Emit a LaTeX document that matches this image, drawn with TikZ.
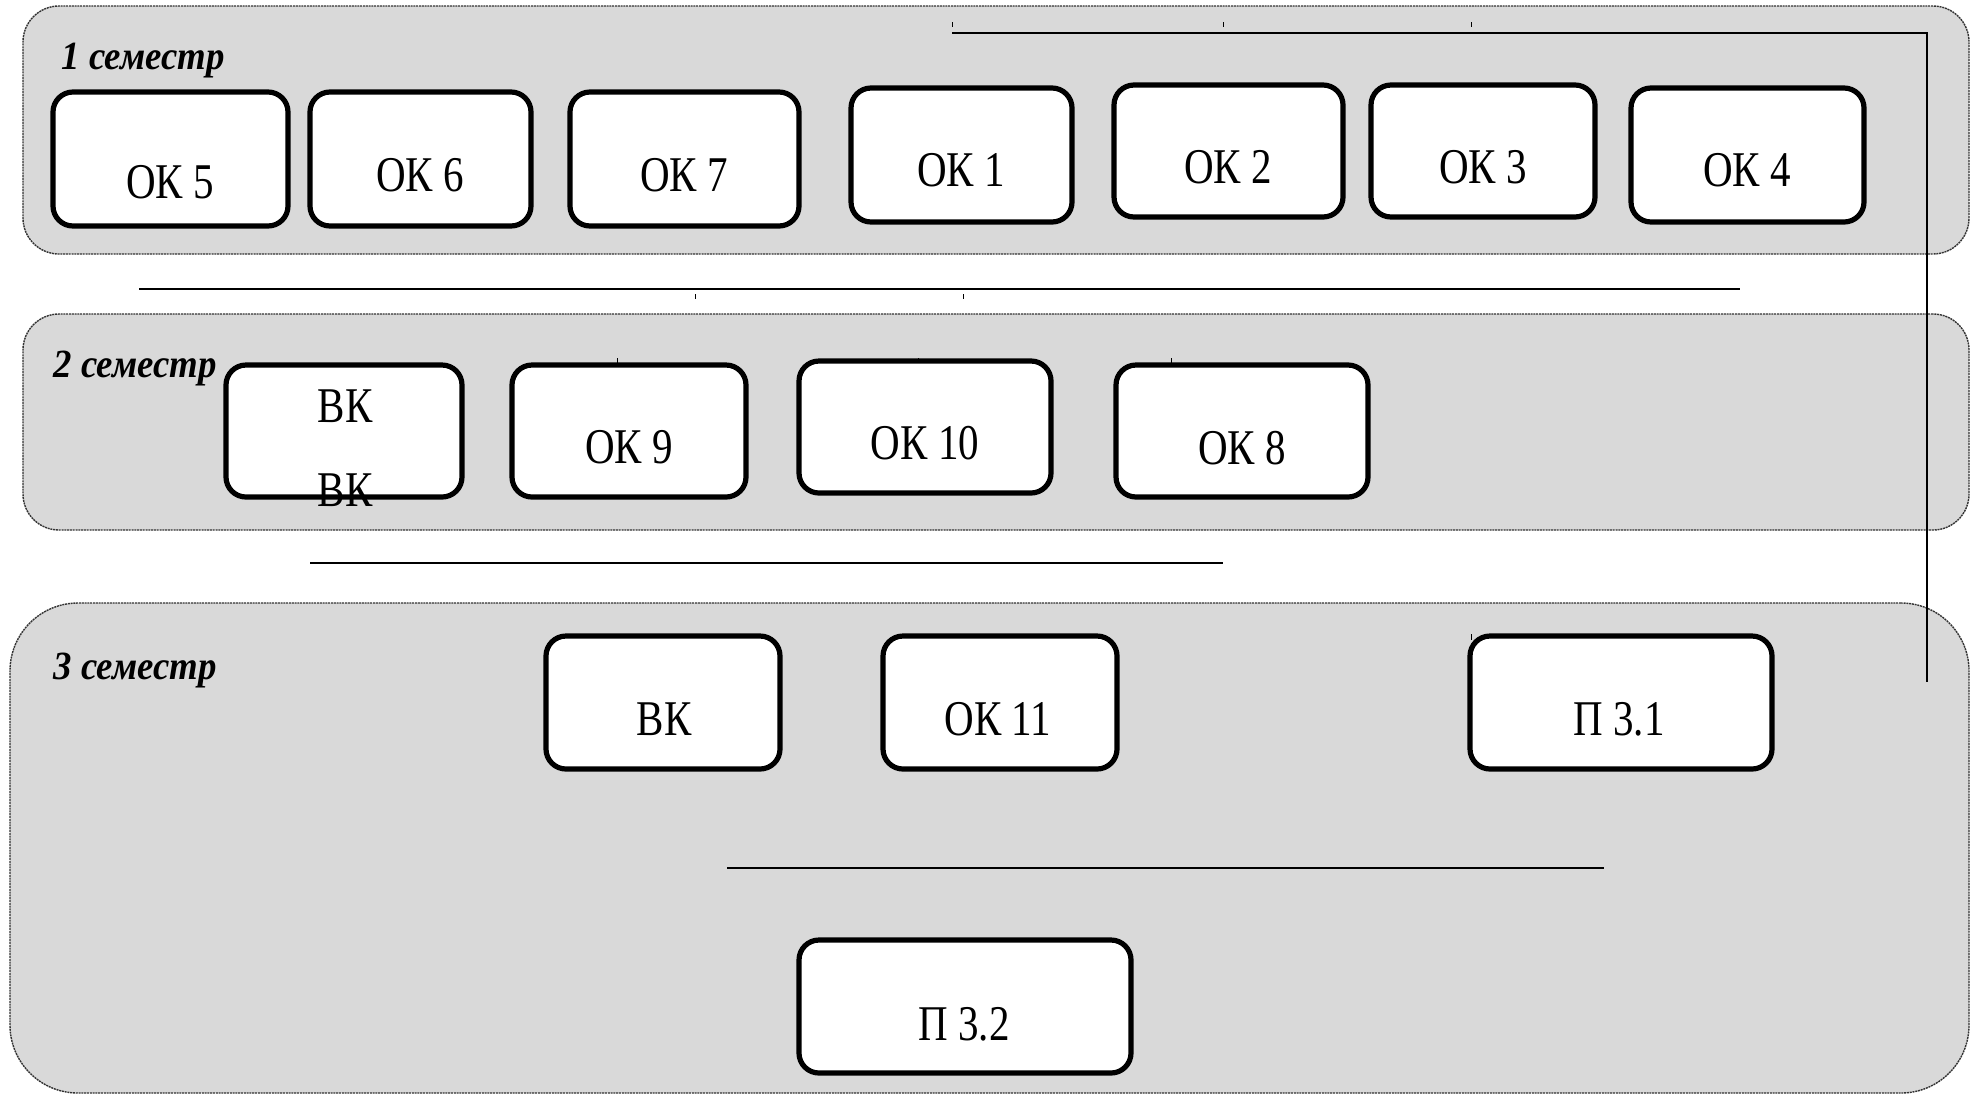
\documentclass[tikz,border=0pt]{standalone}
\usepackage{fontspec}
\setmainfont{Liberation Serif}
\newfontfamily\boxfont[FakeStretch=0.82]{Liberation Serif}
\newfontfamily\labfont[FakeStretch=0.92]{Liberation Serif}
\definecolor{panelgray}{HTML}{D9D9D9}
\tikzset{
  panel/.style={draw=black!80, fill=panelgray, line width=0.7pt, dash pattern=on 1pt off 0.4pt, inner sep=0pt},
  box/.style={draw=black, fill=white, line width=2.6pt, rounded corners=10pt, inner sep=0pt},
  boxtext/.style={font=\boxfont\fontsize{25}{30}\selectfont, inner sep=0pt},
  semlabel/.style={font=\labfont\bfseries\itshape\fontsize{20}{24}\selectfont, inner sep=0pt, anchor=west},
  link/.style={draw=black, line width=1.25pt},
  tick/.style={draw=black, line width=0.3pt}
}
\newcommand\bx[8]{%
  \node[box, minimum width={(#4-#2)*0.5pt}, minimum height={(#5-#3)*0.5pt}] (#1) at ({(#2+#4)/2},{(#3+#5)/2}) {};
  \node[boxtext] (#1t) at (#7,#8) {#6};
}
\newcommand\pn[6]{%
  \node[panel, rounded corners=#6, minimum width={(#4-#2)*0.5pt}, minimum height={(#5-#3)*0.5pt}] (#1) at ({(#2+#4)/2},{(#3+#5)/2}) {};
}
\begin{document}
\begin{tikzpicture}[x=0.5pt, y=-0.5pt]
\useasboundingbox (0,0) rectangle (1979,1094);
\clip (0,0) rectangle (1979,1094);
% panels
\pn{p1}{23}{6}{1969}{254}{18pt}
\pn{p2}{23}{314}{1969}{530}{18pt}
\pn{p3}{10}{603}{1969}{1093}{34pt}
% labels
\node[semlabel] (l1) at (61,61) {1 семестр};
\node[semlabel] (l2) at (53,369) {2 семестр};
\node[semlabel] (l3) at (53,670) {3 семестр};
% connectors
\coordinate (a1) at (952,33);
\coordinate (a2) at (1927,33);
\coordinate (a3) at (1927,682);
\draw[link] (a1) -- (a2) -- (a3);
\coordinate (b1) at (139,289);
\coordinate (b2) at (1740,289);
\draw[link] (b1) -- (b2);
\coordinate (c1) at (310,563);
\coordinate (c2) at (1223,563);
\draw[link] (c1) -- (c2);
\coordinate (d1) at (727,868);
\coordinate (d2) at (1604,868);
\draw[link] (d1) -- (d2);
% tiny ticks
\foreach \tx in {952,1223,1471} \draw[tick] (\tx,22) -- (\tx,27);
\foreach \tx in {695,963} \draw[tick] (\tx,294) -- (\tx,299);
\foreach \tx in {617,918,1171} \draw[tick] (\tx,358) -- (\tx,364);
\draw[tick] (1471,634) -- (1471,640);
% row 1
\bx{ok5}{53}{92}{288}{226}{ОК 5}{170}{182}
\bx{ok6}{310}{92}{531}{226}{ОК 6}{420}{175}
\bx{ok7}{570}{92}{799}{226}{ОК 7}{684}{175}
\bx{ok1}{851}{88}{1072}{222}{ОК 1}{961}{170}
\bx{ok2}{1114}{85}{1343}{217}{ОК 2}{1228}{167}
\bx{ok3}{1371}{85}{1595}{217}{ОК 3}{1483}{167}
\bx{ok4}{1631}{88}{1864}{222}{ОК 4}{1747}{170}
% row 2
\bx{vk1}{226}{365}{462}{497}{ВК}{345}{406}
\node[boxtext] (vk1b) at (345,490) {ВК};
\bx{ok9}{512}{365}{746}{497}{ОК 9}{629}{447}
\bx{ok10}{799}{361}{1051}{493}{ОК 10}{925}{443}
\bx{ok8}{1116}{365}{1368}{497}{ОК 8}{1242}{448}
% row 3
\bx{vk2}{546}{636}{780}{769}{ВК}{664}{719}
\bx{ok11}{883}{636}{1117}{769}{ОК 11}{998}{719}
\bx{p31}{1470}{636}{1772}{769}{П 3.1}{1619}{719}
\bx{p32}{799}{940}{1131}{1073}{П 3.2}{964}{1024}
\end{tikzpicture}
\end{document}
